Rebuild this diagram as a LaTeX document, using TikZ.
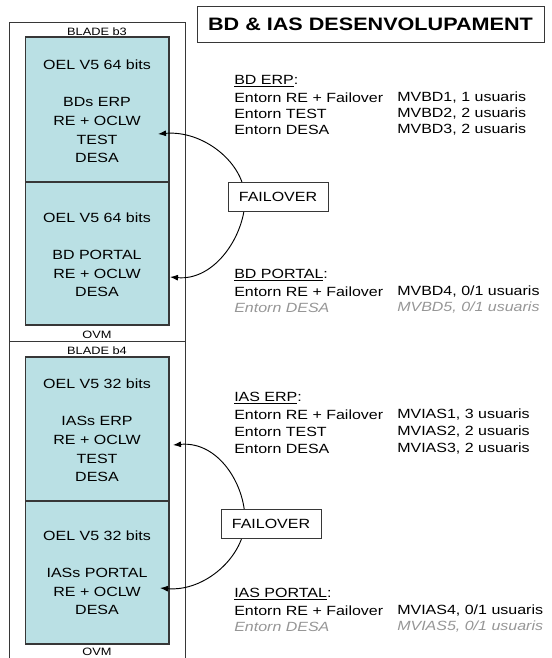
\documentclass[tikz,border=0pt]{standalone}
\usepackage{fontspec}
\setmainfont{Liberation Sans}[FakeStretch=1.2]
\usetikzlibrary{arrows.meta}
\definecolor{teal1}{RGB}{186,224,228}
\definecolor{grayt}{RGB}{150,150,150}
\definecolor{edge}{RGB}{55,55,55}
\tikzset{
  vmbox/.style={draw=edge, fill=teal1, line width=0.8pt, minimum width=107.6pt, inner sep=0},
  blade/.style={draw=edge, line width=0.6pt, minimum width=131.6pt, inner sep=0},
  small/.style={font=\fontsize{8}{9}\selectfont, inner sep=0},
  body/.style={font=\fontsize{10}{13.95}\selectfont, align=center, inner sep=0},
  lst/.style={font=\fontsize{10}{12}\selectfont, anchor=west, inner sep=0},
  dim/.style={lst, text=grayt, font=\fontsize{10}{12}\selectfont\itshape},
  fobox/.style={draw=edge, fill=white, line width=0.6pt, minimum width=75pt, minimum height=21.75pt, font=\fontsize{10}{12}\selectfont, inner sep=0},
  titlebox/.style={draw=edge, line width=0.6pt, minimum width=260.25pt, minimum height=27pt, font=\bfseries\fontsize{13.5}{15}\selectfont, inner sep=0},
  arr/.style={{Latex[length=6pt,width=4.5pt]}-{Latex[length=6pt,width=4.5pt]}, line width=0.7pt}
}
\begin{document}
\begin{tikzpicture}[x=0.75pt,y=-0.75pt]
\useasboundingbox (0,0) rectangle (552,658);
% blades
\node[blade, minimum height=239.25pt] (b3) at (97.25,181.5) {};
\node[blade, minimum height=254.25pt] (b4) at (97.25,510.5) {};
% VM boxes
\node[vmbox, minimum height=108.75pt] (v1) at (97.25,109.5) {};
\node[vmbox, minimum height=107.25pt] (v2) at (97.25,253.5) {};
\node[vmbox, minimum height=108pt] (v3) at (97.25,429) {};
\node[vmbox, minimum height=107.25pt] (v4) at (97.25,572.5) {};
% blade labels
\node[small] (l1) at (97,31.5) {BLADE b3};
\node[small] (l2) at (97,335) {OVM};
\node[small] (l3) at (97,351) {BLADE b4};
\node[small] (l4) at (97,652) {OVM};
% VM texts
\node[body] (t1) at (97,111.5) {OEL V5 64 bits\\[13.95pt]BDs ERP\\RE + OCLW\\TEST\\DESA};
\node[body] (t2) at (97,255) {OEL V5 64 bits\\[13.95pt]BD PORTAL\\RE + OCLW\\DESA};
\node[body] (t3) at (97,430.5) {OEL V5 32 bits\\[13.95pt]IASs ERP\\RE + OCLW\\TEST\\DESA};
\node[body] (t4) at (97,573) {OEL V5 32 bits\\[13.95pt]IASs PORTAL\\RE + OCLW\\DESA};
% title
\node[titlebox] (title) at (370.5,24) {BD \& IAS DESENVOLUPAMENT};
% failover arcs
\coordinate (a1) at (158,134);
\coordinate (r1) at (245,199);
\coordinate (a2) at (170,277);
\coordinate (a3) at (173,445);
\coordinate (r2) at (245,520);
\coordinate (a4) at (160,588);
\draw[arr] (a1) to[out=5,in=90,out distance=34pt,in distance=27pt] (r1) to[out=-90,in=-5,in distance=34pt,out distance=27pt] (a2);
\draw[arr] (a3) to[out=5,in=90,out distance=34pt,in distance=27pt] (r2) to[out=-90,in=-5,in distance=34pt,out distance=27pt] (a4);
\node[fobox] (f1) at (278,196.5) {FAILOVER};
\node[fobox] (f2) at (271,523.5) {FAILOVER};
% BD ERP
\node[lst] (h1) at (234,81) {\underline{BD ERP}:};
\node[lst] (e11) at (234,97.5) {Entorn RE + Failover};
\node[lst] (e12) at (234,113.5) {Entorn TEST};
\node[lst] (e13) at (234,129.5) {Entorn DESA};
\node[lst] (m11) at (397,97.5) {MVBD1, 1 usuaris};
\node[lst] (m12) at (397,113.5) {MVBD2, 2 usuaris};
\node[lst] (m13) at (397,129.5) {MVBD3, 2 usuaris};
% BD PORTAL
\node[lst] (h2) at (234,275) {\underline{BD PORTAL}:};
\node[lst] (e21) at (234,292) {Entorn RE + Failover};
\node[dim] (e22) at (234,308) {Entorn DESA};
\node[lst] (m21) at (397,292) {MVBD4, 0/1 usuaris};
\node[dim] (m22) at (397,308) {MVBD5, 0/1 usuaris};
% IAS ERP
\node[lst] (h3) at (234,398) {\underline{IAS ERP}:};
\node[lst] (e31) at (234,415) {Entorn RE + Failover};
\node[lst] (e32) at (234,432) {Entorn TEST};
\node[lst] (e33) at (234,449) {Entorn DESA};
\node[lst] (m31) at (397,415) {MVIAS1, 3 usuaris};
\node[lst] (m32) at (397,432) {MVIAS2, 2 usuaris};
\node[lst] (m33) at (397,449) {MVIAS3, 2 usuaris};
% IAS PORTAL
\node[lst] (h4) at (234,594) {\underline{IAS PORTAL}:};
\node[lst] (e41) at (234,611) {Entorn RE + Failover};
\node[dim] (e42) at (234,627) {Entorn DESA};
\node[lst] (m41) at (397,611) {MVIAS4, 0/1 usuaris};
\node[dim] (m42) at (397,627) {MVIAS5, 0/1 usuaris};
\end{tikzpicture}
\end{document}
